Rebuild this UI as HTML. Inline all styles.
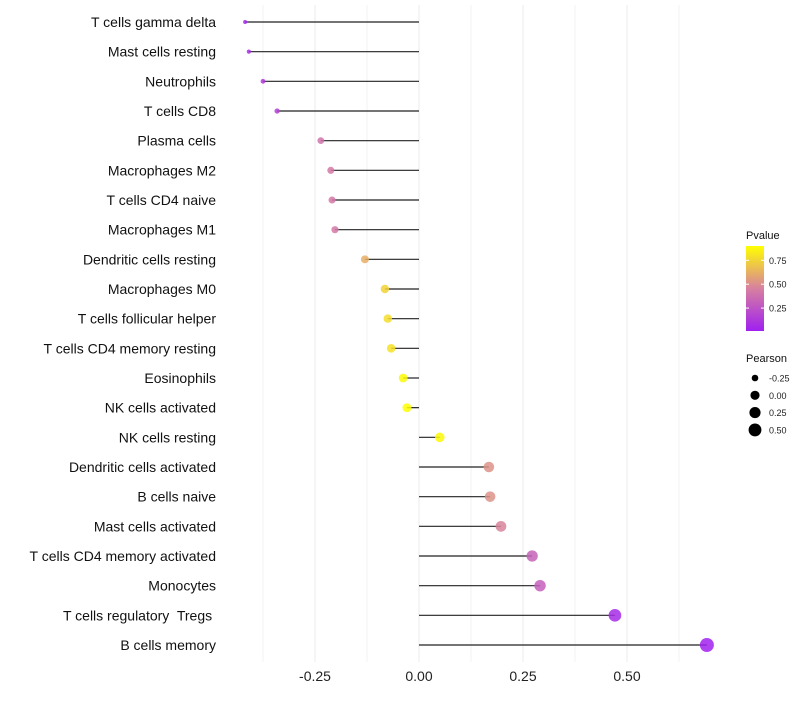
<!DOCTYPE html>
<html><head><meta charset="utf-8"><style>
body{margin:0;background:#fff;}
svg text{font-family:"Liberation Sans",sans-serif;white-space:pre;}
</style></head><body>
<svg id="chart" width="800" height="700"></svg>
<script>
const categories=["T cells gamma delta","Mast cells resting","Neutrophils","T cells CD8","Plasma cells","Macrophages M2","T cells CD4 naive","Macrophages M1","Dendritic cells resting","Macrophages M0","T cells follicular helper","T cells CD4 memory resting","Eosinophils","NK cells activated","NK cells resting","Dendritic cells activated","B cells naive","Mast cells activated","T cells CD4 memory activated","Monocytes","T cells regulatory  Tregs ","B cells memory"];
const pearson=[-0.418,-0.409,-0.375,-0.341,-0.236,-0.212,-0.209,-0.202,-0.130,-0.082,-0.075,-0.067,-0.038,-0.029,0.050,0.168,0.171,0.197,0.272,0.291,0.471,0.692];
const pvalue=[0.05,0.07,0.12,0.16,0.40,0.42,0.42,0.42,0.62,0.75,0.78,0.80,0.88,0.90,0.88,0.52,0.52,0.47,0.32,0.30,0.06,0.02];
const xTicks=[-0.25,0,0.25,0.5];
const xTickLabels=["-0.25","0.00","0.25","0.50"];
const sizeLegend=[-0.25,0,0.25,0.5];
const sizeLegendLabels=["-0.25","0.00","0.25","0.50"];
const pTicks=[0.25,0.5,0.75];
const pTickLabels=["0.25","0.50","0.75"];

const NS="http://www.w3.org/2000/svg";
const svg=document.getElementById('chart');
function mk(t,a,p){const e=document.createElementNS(NS,t);for(const k in a)e.setAttribute(k,a[k]);(p||svg).appendChild(e);return e;}
const x=v=>419+v*416;
const y=i=>22+i*(623/21);
const r=v=>Math.sqrt(Math.max(1,4+40.5*(v+0.42)));
function lerp(a,b,t){return a.map((c,i)=>Math.round(c+(b[i]-c)*t));}
function col(p){const t=Math.max(0,Math.min(1,(p-0.01)/0.89));
 const A=[160,32,240],B=[215,128,160],C=[255,255,0];
 const c=t<0.5?lerp(A,B,t/0.5):lerp(B,C,(t-0.5)/0.5);return `rgb(${c})`;}

for(let v=-0.375;v<=0.63;v+=0.125){const g=mk('line',{x1:x(v),x2:x(v),y1:5,y2:662,stroke:'#ebebeb','stroke-width':Math.abs(v*8%2)<0.01?1:0.6});
}
xTicks.forEach((v,i)=>{const t=mk('text',{x:x(v),y:681,'text-anchor':'middle','font-size':14,fill:'#222'});t.textContent=xTickLabels[i];
});
categories.forEach((c,i)=>{
 const t=mk('text',{x:216,y:y(i)+5,'text-anchor':'end','font-size':14,fill:'#111'});t.textContent=c;
 
 const l=mk('line',{x1:x(0),x2:x(pearson[i]),y1:y(i),y2:y(i),stroke:'#222','stroke-width':1.2});
 
 const d=mk('circle',{cx:x(pearson[i]),cy:y(i),r:r(pearson[i]),fill:col(pvalue[i]),'fill-opacity':0.85});
 
});
const defs=mk('defs',{});const lg=mk('linearGradient',{id:'pg',x1:0,y1:1,x2:0,y2:0},defs);
[[0,'rgb(160,32,240)'],[0.5,'rgb(215,128,160)'],[1,'rgb(255,255,0)']].forEach(s=>mk('stop',{offset:s[0],'stop-color':s[1]},lg));
const lt=mk('text',{x:746,y:239,'font-size':11,fill:'#111'});lt.textContent='Pvalue';

const bar=mk('rect',{x:746,y:246,width:18,height:85,fill:'url(#pg)'});

const py=p=>331-(p-0.01)/0.89*85;
pTicks.forEach((p,i)=>{mk('line',{x1:746,x2:749,y1:py(p),y2:py(p),stroke:'#fff'});mk('line',{x1:761,x2:764,y1:py(p),y2:py(p),stroke:'#fff'});
 const t=mk('text',{x:769,y:py(p)+3.5,'font-size':9,fill:'#222'});t.textContent=pTickLabels[i];
 });
const st=mk('text',{x:746,y:362,'font-size':11,fill:'#111'});st.textContent='Pearson';

sizeLegend.forEach((v,i)=>{const cy=378+i*17.3;
 const c=mk('circle',{cx:755,cy:cy,r:r(v),fill:'#000'});
 const t=mk('text',{x:769,y:cy+3.5,'font-size':9,fill:'#222'});t.textContent=sizeLegendLabels[i];
 });
</script>
</body></html>
